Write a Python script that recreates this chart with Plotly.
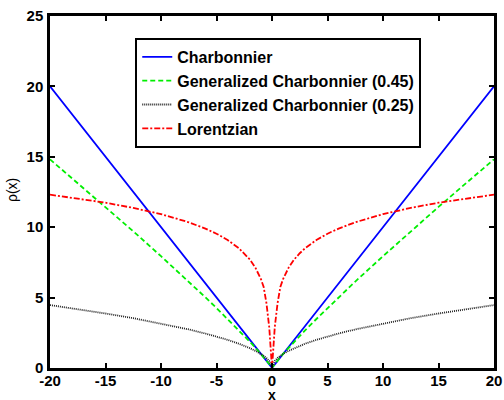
import plotly.graph_objects as go

x_vals = [-20, -17.5, -15, -12.5, -10, -7.5, -6, -5, -4, -3, -2.5, -2, -1.5, -1, -0.75, -0.5, -0.25, 0,
          0.25, 0.5, 0.75, 1, 1.5, 2, 2.5, 3, 4, 5, 6, 7.5, 10, 12.5, 15, 17.5, 20]

charbonnier = [20, 17.5, 15, 12.5, 10, 7.5, 6, 5, 4, 3, 2.5, 2, 1.5, 1, 0.75, 0.5, 0.25, 0.01,
               0.25, 0.5, 0.75, 1, 1.5, 2, 2.5, 3, 4, 5, 6, 7.5, 10, 12.5, 15, 17.5, 20]

gen_charb_045 = [14.82, 13.14, 11.44, 9.71, 7.94, 6.14, 5.02, 4.26, 3.48, 2.69, 2.28, 1.87, 1.44, 1.0, 0.77, 0.54, 0.29, 0.02,
                 0.29, 0.54, 0.77, 1.0, 1.44, 1.87, 2.28, 2.69, 3.48, 4.26, 5.02, 6.14, 7.94, 9.71, 11.44, 13.14, 14.82]

gen_charb_025 = [4.47, 4.18, 3.87, 3.54, 3.16, 2.74, 2.45, 2.24, 2.0, 1.73, 1.58, 1.41, 1.22, 1.0, 0.87, 0.71, 0.5, 0.05,
                 0.5, 0.71, 0.87, 1.0, 1.22, 1.41, 1.58, 1.73, 2.0, 2.24, 2.45, 2.74, 3.16, 3.54, 3.87, 4.18, 4.47]

lorentzian = [12.31, 12.04, 11.74, 11.37, 10.93, 10.35, 9.90, 9.54, 9.09, 8.52, 8.15, 7.71, 7.13, 6.32, 5.75, 4.6, 2.9, 0,
              2.9, 4.6, 5.75, 6.32, 7.13, 7.71, 8.15, 8.52, 9.09, 9.54, 9.90, 10.35, 10.93, 11.37, 11.74, 12.04, 12.31]

x_ticks = [-20, -15, -10, -5, 0, 5, 10, 15, 20]
y_ticks = [0, 5, 10, 15, 20, 25]

FONT = "Liberation Sans, Arial, sans-serif"

fig = go.Figure()
fig.add_trace(go.Scatter(x=x_vals, y=charbonnier, mode="lines", name="Charbonnier",
                         line=dict(color="#0000ff", width=1.8, dash="solid")))
fig.add_trace(go.Scatter(x=x_vals, y=gen_charb_045, mode="lines", name="Generalized Charbonnier (0.45)",
                         line=dict(color="#00ee00", width=1.8, dash="5px,3px")))
fig.add_trace(go.Scatter(x=x_vals, y=gen_charb_025, mode="lines", name="Generalized Charbonnier (0.25)",
                         line=dict(color="#222222", width=1.8, dash="1px,1px")))
fig.add_trace(go.Scatter(x=x_vals, y=lorentzian, mode="lines", name="Lorentzian",
                         line=dict(color="#ff0000", width=1.8, dash="6px,2px,2px,2px")))

axis_common = dict(
    showline=True, linecolor="black", linewidth=2.5, mirror="ticks",
    ticks="inside", ticklen=5, tickwidth=2, tickcolor="black",
    showgrid=False, zeroline=False, automargin=False,
    tickfont=dict(family=FONT, size=15, color="black", weight="bold"),
)

fig.update_xaxes(range=[-20, 20], tickmode="array", tickvals=x_ticks,
                 ticktext=[str(v) for v in x_ticks], ticklabelstandoff=-3, **axis_common)
fig.update_yaxes(range=[0, 25], tickmode="array", tickvals=y_ticks,
                 ticktext=[str(v) for v in y_ticks], ticklabelstandoff=1, **axis_common)

fig.add_annotation(text="x", xref="paper", yref="paper", x=0.5, y=-0.078,
                   xanchor="center", yanchor="middle", showarrow=False,
                   font=dict(family=FONT, size=14, color="black", weight="bold"))
fig.add_annotation(text="ρ(x)", xref="paper", yref="paper", x=-0.086, y=0.505,
                   xanchor="center", yanchor="middle", showarrow=False, textangle=-90,
                   font=dict(family=FONT, size=14, color="black"))

fig.update_layout(
    width=504, height=400,
    margin=dict(l=50, r=10, t=16, b=32),
    paper_bgcolor="white", plot_bgcolor="white",
    showlegend=True,
    legend=dict(x=0.192, y=0.9375, xanchor="left", yanchor="top",
                bgcolor="white", bordercolor="black", borderwidth=2,
                font=dict(family=FONT, size=16, color="black", weight="bold"),
                tracegroupgap=0, itemwidth=30),
)

fig.write_html("out.html")
